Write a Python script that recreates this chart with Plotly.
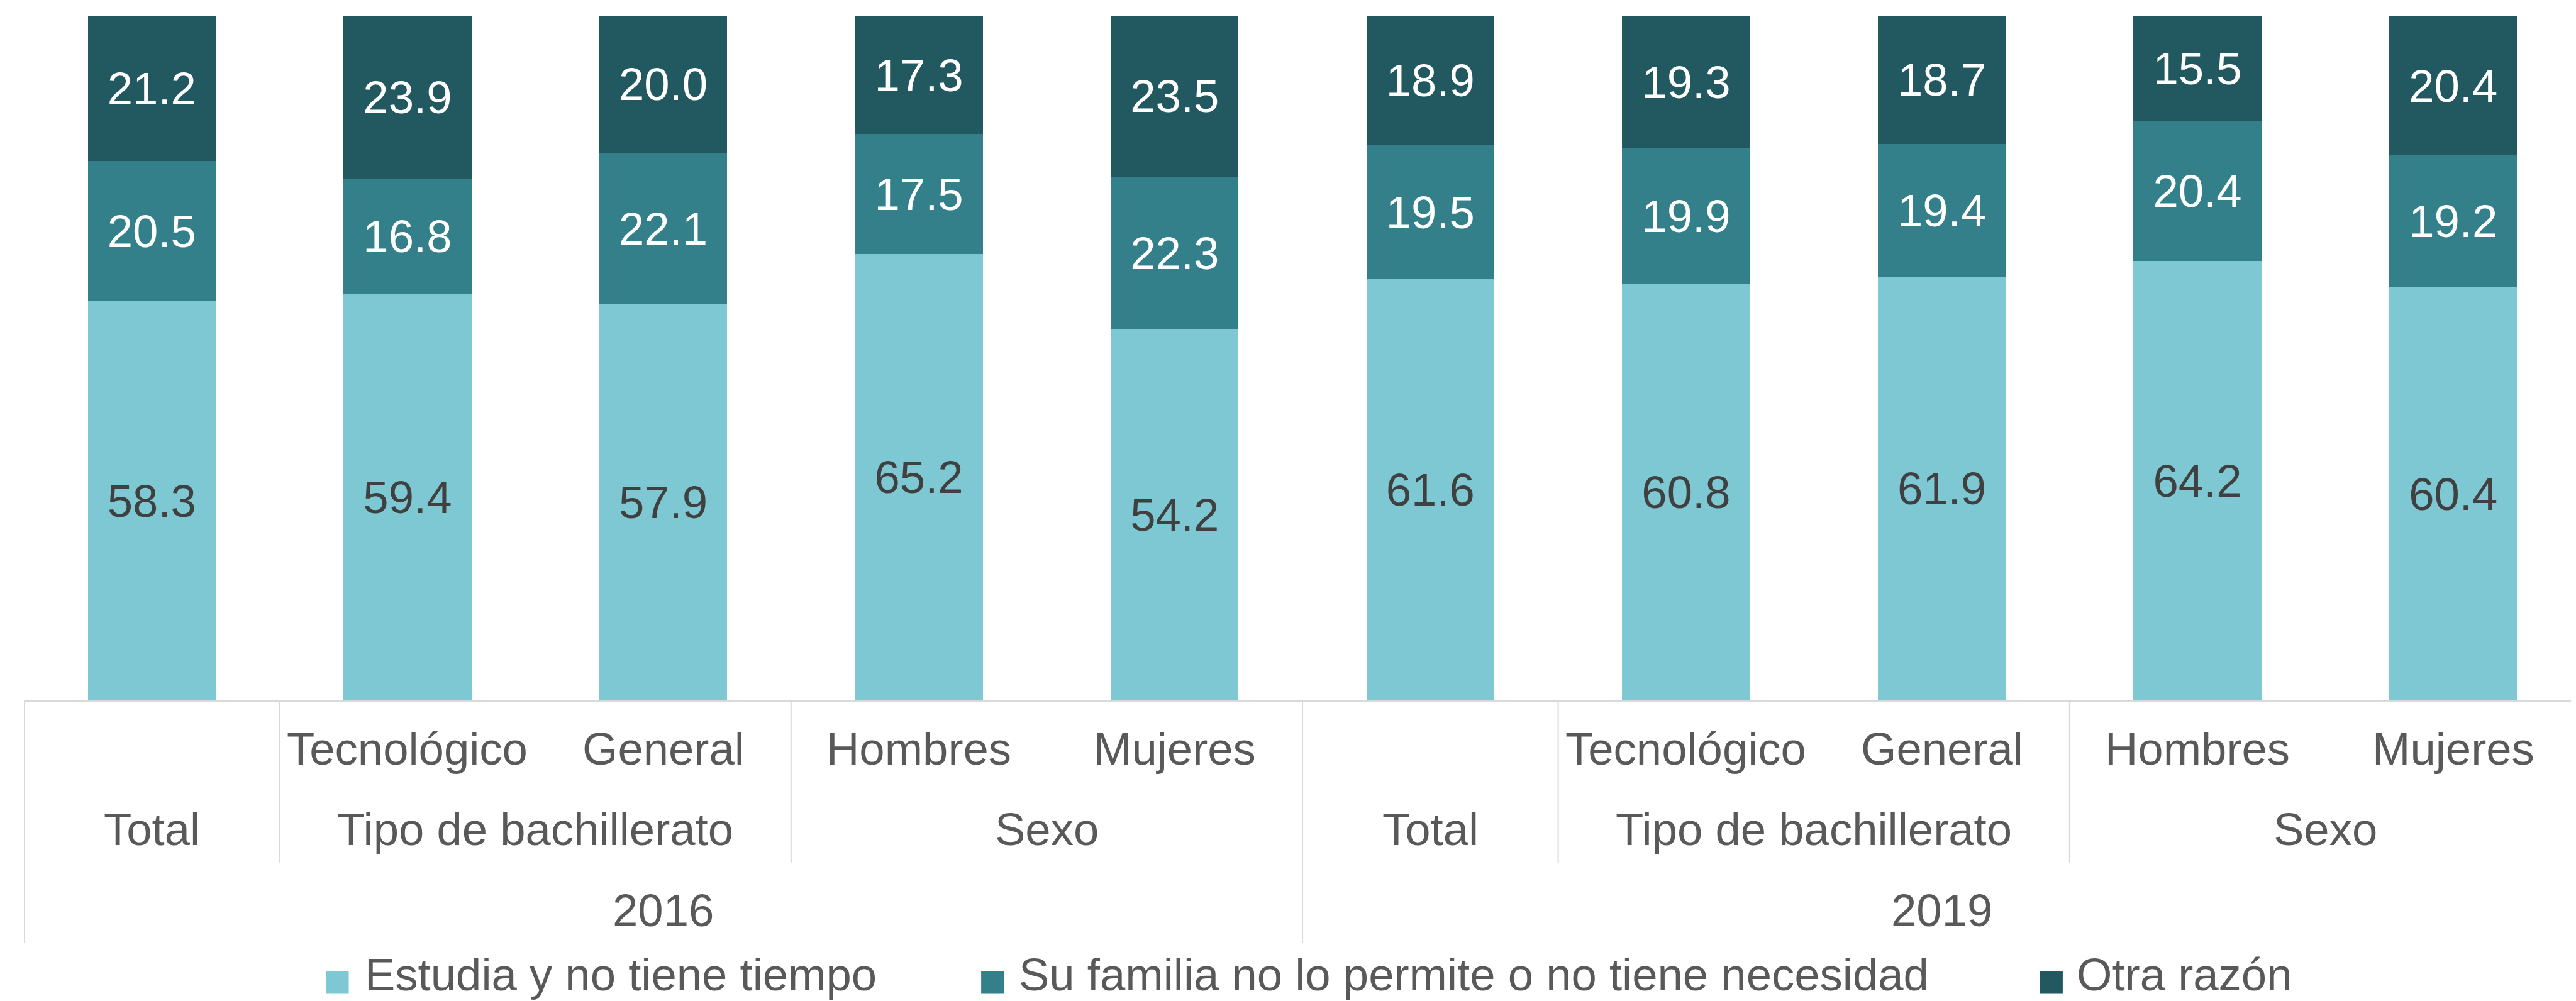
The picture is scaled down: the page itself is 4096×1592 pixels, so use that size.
import plotly.graph_objects as go

# ---------------- data ----------------
years = ["2016", "2016", "2016", "2016", "2016", "2019", "2019", "2019", "2019", "2019"]
groups = ["Total", "Tipo de bachillerato", "Tipo de bachillerato", "Sexo", "Sexo",
          "Total", "Tipo de bachillerato", "Tipo de bachillerato", "Sexo", "Sexo"]
subcats = ["", "Tecnológico", "General", "Hombres", "Mujeres",
           "", "Tecnológico", "General", "Hombres", "Mujeres"]

series_names = ["Estudia y no tiene tiempo",
                "Su familia no lo permite o no tiene necesidad",
                "Otra razón"]
estudia = [58.3, 59.4, 57.9, 65.2, 54.2, 61.6, 60.8, 61.9, 64.2, 60.4]
familia = [20.5, 16.8, 22.1, 17.5, 22.3, 19.5, 19.9, 19.4, 20.4, 19.2]
otra = [21.2, 23.9, 20.0, 17.3, 23.5, 18.9, 19.3, 18.7, 15.5, 20.4]

# ---------------- styling ----------------
W, H = 4096, 1592
L, R, T, B = 29.5, 0, 17.2, 486
plot_w = W - L - R
plot_h = H - T - B

FONT = "Arial, Liberation Sans, sans-serif"
FS = 72.5
GRAY = "#595959"
LINE = "#D9D9D9"
colors = ["#7DC8D2", "#33808A", "#225860"]
text_colors = ["#404040", "#FFFFFF", "#FFFFFF"]


def px_x(px):
    return (px - L) / plot_w


def px_y(py):
    return (H - B - py) / plot_h


cat_ids = [f"{y}|{g}|{s}|{i}" for i, (y, g, s) in enumerate(zip(years, groups, subcats))]

fig = go.Figure()
for name, vals, col, tcol in zip(series_names, [estudia, familia, otra], colors, text_colors):
    fig.add_trace(go.Bar(
        x=cat_ids, y=vals, name=name,
        marker=dict(color=col, line=dict(width=0)),
        text=[f"{v:.1f}" for v in vals],
        textposition="inside", insidetextanchor="middle", textangle=0,
        insidetextfont=dict(family=FONT, size=FS, color=tcol),
        showlegend=False, hoverinfo="skip",
    ))

annotations = []
shapes = []

n = len(cat_ids)
# level 1 labels (sub categories)
for i, s in enumerate(subcats):
    if s:
        annotations.append(dict(x=i, xref="x", y=0, yref="paper", yanchor="middle",
                                yshift=-76, text=s, showarrow=False,
                                font=dict(family=FONT, size=FS, color=GRAY)))


def spans(labels, keys):
    out = []
    start = 0
    for i in range(1, len(labels) + 1):
        if i == len(labels) or keys[i] != keys[start]:
            out.append((start, i - 1, labels[start]))
            start = i
    return out


# level 2 labels (groups)
group_keys = [f"{y}|{g}" for y, g in zip(years, groups)]
group_spans = spans(groups, group_keys)
for a, b, lab in group_spans:
    annotations.append(dict(x=(a + b) / 2, xref="x", y=0, yref="paper", yanchor="middle",
                            yshift=-204.5, text=lab, showarrow=False,
                            font=dict(family=FONT, size=FS, color=GRAY)))
# level 3 labels (years)
year_spans = spans(years, years)
for a, b, lab in year_spans:
    annotations.append(dict(x=(a + b) / 2, xref="x", y=0, yref="paper", yanchor="middle",
                            yshift=-333.5, text=lab, showarrow=False,
                            font=dict(family=FONT, size=FS, color=GRAY)))

# divider lines
deep_y = px_y(1491.7)
mid_y = px_y(1363.8)
year_bounds = set([a - 0.5 for a, b, _ in year_spans])
for a, b, _ in group_spans:
    xb = a - 0.5
    y1 = deep_y if xb in year_bounds else mid_y
    shapes.append(dict(type="line", xref="x", yref="paper", x0=xb, x1=xb, y0=0, y1=y1,
                       line=dict(color=LINE, width=2)))

# legend (manual)
leg_sq_x = [509.7, 1551.8, 3235.4]
leg_txt_x = [570.7, 1610.8, 3292.5]
sq = 36.4
sq_top = 1536.0
for name, col, sx, tx in zip(series_names, colors, leg_sq_x, leg_txt_x):
    shapes.append(dict(type="rect", xref="paper", yref="paper",
                       x0=px_x(sx), x1=px_x(sx + sq), y0=px_y(sq_top + sq), y1=px_y(sq_top),
                       fillcolor=col, line=dict(width=0)))
    annotations.append(dict(x=px_x(tx), xref="paper", xanchor="left", y=px_y(1541.5),
                            yref="paper", yanchor="middle", text=name, showarrow=False,
                            borderpad=0,
                            font=dict(family=FONT, size=FS, color=GRAY)))

fig.update_layout(
    width=W, height=H,
    margin=dict(l=L, r=R, t=T, b=B, pad=0),
    barmode="stack", bargap=0.5,
    plot_bgcolor="white", paper_bgcolor="white",
    xaxis=dict(type="category", range=[-0.5, n - 0.5], showticklabels=False,
               showgrid=False, zeroline=False, ticks="",
               showline=True, linecolor=LINE, linewidth=2),
    yaxis=dict(range=[0, 100], visible=False, showgrid=False, zeroline=False),
    annotations=annotations, shapes=shapes,
    showlegend=False,
)

fig.write_html("out.html")
